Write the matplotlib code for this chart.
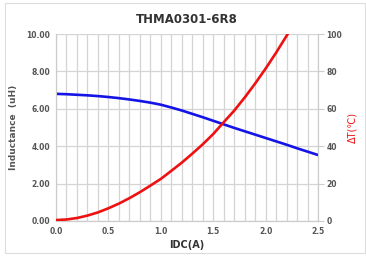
import matplotlib
matplotlib.use('Agg')
import matplotlib.pyplot as plt
from matplotlib.patches import Rectangle
import numpy as np

# valores (cada 0.1 A)
idc = [0.0, 0.1, 0.2, 0.3, 0.4, 0.5, 0.6, 0.7, 0.8, 0.9, 1.0, 1.1, 1.2,
       1.3, 1.4, 1.5, 1.6, 1.7, 1.8, 1.9, 2.0, 2.1, 2.2, 2.3, 2.4, 2.5]
inductancia = [6.80, 6.78, 6.75, 6.72, 6.68, 6.63, 6.57, 6.50, 6.42, 6.33,
               6.22, 6.07, 5.91, 5.73, 5.55, 5.36, 5.17, 4.98, 4.80, 4.62,
               4.44, 4.26, 4.08, 3.89, 3.71, 3.53]
idc_temp = [0.0, 0.1, 0.2, 0.3, 0.4, 0.5, 0.6, 0.7, 0.8, 0.9, 1.0, 1.1,
            1.2, 1.3, 1.4, 1.5, 1.6, 1.7, 1.8, 1.9, 2.0, 2.1, 2.2, 2.3]
delta_t = [0.5, 0.8, 1.6, 2.9, 4.6, 6.8, 9.3, 12.2, 15.4, 18.9, 22.5, 26.8,
           31.2, 36.0, 41.0, 46.5, 52.8, 59.0, 66.0, 73.5, 81.5, 90.0, 99.0, 108.0]

titulo = 'THMA0301-6R8'
gris = '#555555'

fig = plt.figure(figsize=(3.66, 2.58), dpi=100)
fig.add_artist(Rectangle((5 / 366, 5 / 258), 360 / 366, 250 / 258,
                         transform=fig.transFigure, fill=False,
                         edgecolor='#dddddd', linewidth=0.8))
ax = fig.add_axes([56 / 366, 37 / 258, 262 / 366, 187 / 258])
ax2 = ax.twinx()

ax.plot(idc, inductancia, color='#1414e6', lw=1.9, zorder=3, solid_joinstyle='round')
ax2.plot(idc_temp, delta_t, color='#ee1111', lw=1.9, zorder=3, solid_joinstyle='round')

ax.set_xlim(0, 2.5)
ax.set_ylim(0, 10)
ax2.set_ylim(0, 100)
ax.set_xticks(np.arange(0, 2.51, 0.5))
ax.set_xticks(np.arange(0, 2.51, 0.1), minor=True)
ax.set_yticks(np.arange(0, 10.1, 2))
ax2.set_yticks(np.arange(0, 101, 20))
ax.set_xticklabels([f'{v:.1f}' for v in np.arange(0, 2.51, 0.5)])
ax.set_yticklabels([f'{v:.2f}' for v in np.arange(0, 10.1, 2)])

ax.grid(True, which='both', axis='x', color='#d4d4d4', lw=0.9)
ax.grid(True, axis='y', color='#d4d4d4', lw=0.9)
ax.set_axisbelow(True)

for a in (ax, ax2):
    a.spines['top'].set_visible(False)
    for s in ('left', 'right', 'bottom'):
        a.spines[s].set_color('#cccccc')
        a.spines[s].set_linewidth(0.8)

ax.tick_params(axis='both', which='both', length=0, labelsize=5.5, labelcolor=gris, pad=4)
ax2.tick_params(axis='y', length=4, color='#cccccc', labelsize=5.5, labelcolor=gris, pad=2)
for lbl in ax.get_xticklabels() + ax.get_yticklabels() + ax2.get_yticklabels():
    lbl.set_fontweight('bold')

ax.set_title(titulo, fontsize=8.5, fontweight='bold', color='#333333', pad=8)
ax.set_xlabel('IDC(A)', fontsize=7, fontweight='bold', color='#333333', labelpad=3)
ax.set_ylabel('Inductance  (uH)', fontsize=6.5, fontweight='bold', color=gris, labelpad=6)
ax2.set_ylabel('ΔT(℃)', fontsize=7, color='#ee1111', labelpad=4)

fig.savefig('out.png', dpi=100)
